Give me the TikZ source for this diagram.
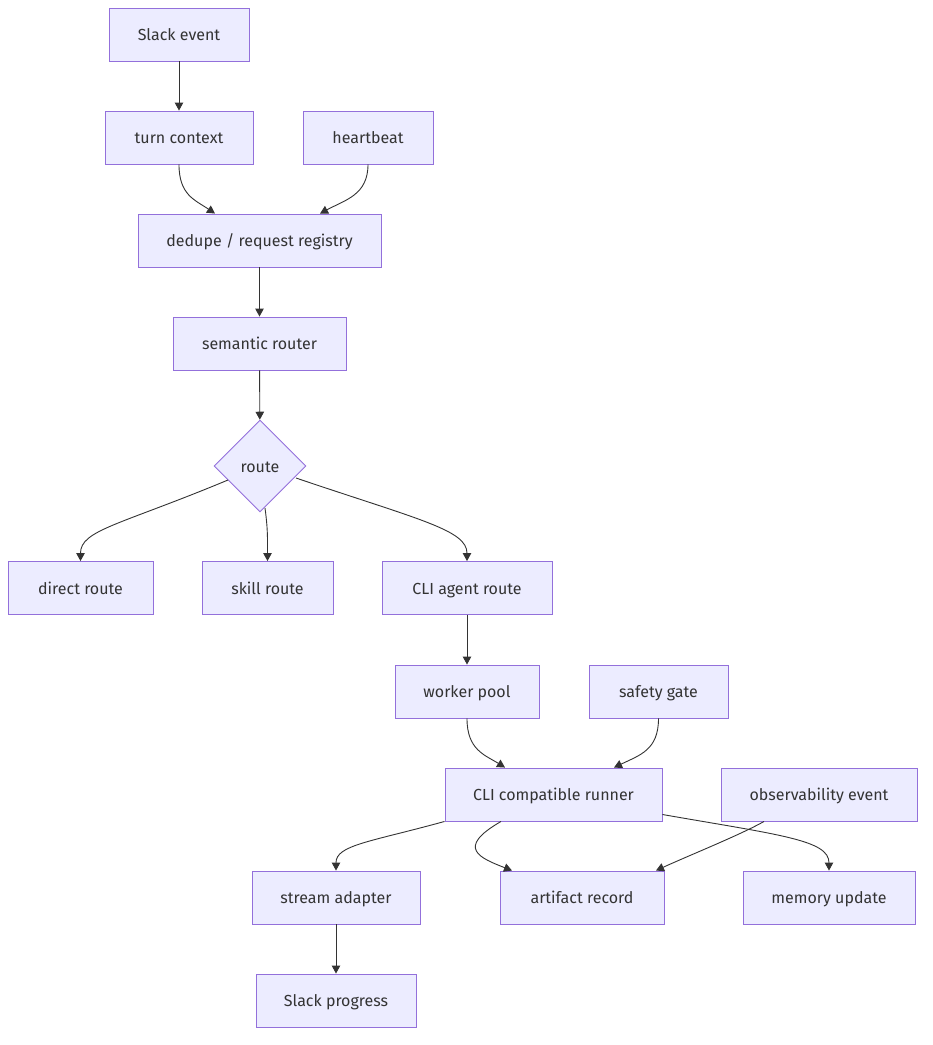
\documentclass[tikz,border=0pt]{standalone}
\usepackage{fontspec}
\setmainfont{Fira Sans}
\usetikzlibrary{arrows.meta, positioning, shapes.geometric}

\definecolor{nodefill}{HTML}{ECECFF}
\definecolor{nodeline}{HTML}{9370DB}
\definecolor{edgeline}{HTML}{333333}

\begin{document}
\begin{tikzpicture}[
    x=1pt, y=-1pt,
    box/.style={draw=nodeline, fill=nodefill, line width=0.9pt, align=center,
                minimum height=53pt, inner sep=0pt, text=edgeline,
                text height=13pt, text depth=1pt,
                font=\fontsize{16}{19}\selectfont},
    decide/.style={diamond, draw=nodeline, fill=nodefill, line width=0.9pt,
                   minimum width=92pt, minimum height=92pt, inner sep=0pt,
                   text=edgeline, text height=13pt, text depth=1pt,
                   font=\fontsize{16}{19}\selectfont},
    flow/.style={-{Triangle[length=8pt, width=8.5pt]}, draw=edgeline, line width=0.9pt},
  ]
  \useasboundingbox (0,0) rectangle (933,1045);

  % --- intake ---
  \node[box, minimum width=140pt] (slack) at (179,34.5) {Slack event};
  \node[box, minimum width=148pt] (turn) at (179,137.5) {turn context};
  \node[box, minimum width=130pt] (beat) at (368,137.5) {heartbeat};
  \node[box, minimum width=243pt] (dedupe) at (259.5,240.5) {dedupe / request registry};
  \node[box, minimum width=173pt] (router) at (259.5,343.5) {semantic router};
  \node[decide] (route) at (260,466) {route};

  \draw[flow] (slack) -- (turn);
  \draw[flow] (turn.south) .. controls (179,195) and (195,200) .. ([xshift=-44.5pt]dedupe.north);
  \draw[flow] (beat.south) .. controls (368,195) and (345,200) .. ([xshift=60.5pt]dedupe.north);
  \draw[flow] (dedupe) -- (router);
  \draw[flow] (router) -- (route);

  % --- routes ---
  \node[box, minimum width=145pt] (direct) at (80.5,588) {direct route};
  \node[box, minimum width=131pt] (skill) at (267.5,588) {skill route};
  \node[box, minimum width=170pt] (agent) at (467,588) {CLI agent route};

  \draw[flow] ([xshift=-32pt, yshift=-14pt]route.center) .. controls (120,525) and (80.5,530) .. (direct.north);
  \draw[flow] ([xshift=5pt, yshift=-42pt]route.center) .. controls (268,530) and (267.5,540) .. (skill.north);
  \draw[flow] ([xshift=36pt, yshift=-12pt]route.center) .. controls (420,520) and (467,530) .. (agent.north);

  % --- runner ---
  \node[box, minimum width=144pt] (pool) at (467,691.5) {worker pool};
  \node[box, minimum width=139pt] (gate) at (658.5,691.5) {safety gate};
  \node[box, minimum width=217pt] (runner) at (553.5,794.5) {CLI compatible runner};
  \node[box, minimum width=196pt] (observe) at (819,794.5) {observability event};

  \draw[flow] (agent) -- (pool);
  \draw[flow] (pool.south) .. controls (467,750) and (485,755) .. ([xshift=-48.5pt]runner.north);
  \draw[flow] (gate.south) .. controls (658.5,750) and (640,755) .. ([xshift=60.5pt]runner.north);

  % --- outputs ---
  \node[box, minimum width=168pt] (stream) at (336,897.5) {stream adapter};
  \node[box, minimum width=164pt] (artifact) at (582,897.5) {artifact record};
  \node[box, minimum width=172pt] (memory) at (829,897.5) {memory update};
  \node[box, minimum width=160pt] (progress) at (336,1000.5) {Slack progress};

  \draw[flow] (runner.south west) .. controls (370,842) and (336,845) .. (stream.north);
  \draw[flow] ([xshift=-52.5pt]runner.south) .. controls (455,848) and (480,858) .. ([xshift=-70pt]artifact.north);
  \draw[flow] ([xshift=-55pt]observe.south) .. controls (740,835) and (690,855) .. ([xshift=74pt]artifact.north);
  \draw[flow] ([yshift=-20pt]runner.east) .. controls (780,835) and (829,840) .. (memory.north);
  \draw[flow] (stream) -- (progress);
\end{tikzpicture}
\end{document}
